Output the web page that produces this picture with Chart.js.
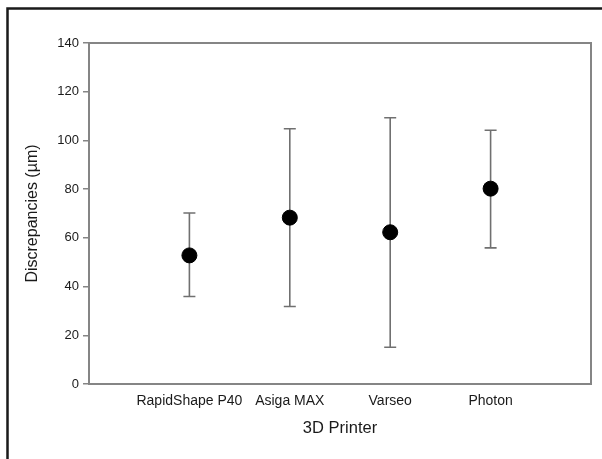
<!DOCTYPE html>
<html>
<head>
<meta charset="utf-8">
<script src="https://cdn.jsdelivr.net/npm/chart.js@4/dist/chart.umd.min.js"></script>
<style>
  html, body { margin: 0; padding: 0; background: #fff; }
  #wrap { width: 602px; height: 459px; }
</style>
</head>
<body>
<div id="wrap"><canvas id="discChart"></canvas></div>
<script>
// data
var printers = ["RapidShape P40", "Asiga MAX", "Varseo", "Photon"];
var means = [52.8, 68.3, 62.3, 80.2];
var lows = [35.9, 31.8, 15.1, 55.9];
var highs = [70.2, 104.8, 109.3, 104.2];
var yTicks = [0, 20, 40, 60, 80, 100, 120, 140];

var points = printers.map(function (p, i) {
    return { x: i + 1, y: means[i] };
});

// frame round the plot + outer black border
var framePlugin = {
    id: "frame",
    beforeDraw: function (chart) {
        var c = chart.ctx;
        c.save();
        c.fillStyle = "#fff";
        c.fillRect(0, 0, chart.width, chart.height);
        c.strokeStyle = "#1a1a1a";
        c.lineWidth = 2.5;
        c.beginPath();
        c.moveTo(7.5, chart.height);
        c.lineTo(7.5, 8.5);
        c.lineTo(chart.width, 8.5);
        c.stroke();
        c.restore();
    },
    afterDatasetsDraw: function (chart) {
        var a = chart.chartArea;
        var c = chart.ctx;
        c.save();
        c.strokeStyle = "#858585";
        c.lineWidth = 2;
        c.strokeRect(a.left, a.top, a.right - a.left, a.bottom - a.top);
        c.restore();
    }
};

// error bars drawn under the points
var errorBars = {
    id: "errorBars",
    beforeDatasetsDraw: function (chart) {
        var xs = chart.scales.x, ys = chart.scales.y;
        var c = chart.ctx;
        c.save();
        c.strokeStyle = "#707070";
        c.lineWidth = 1.6;
        printers.forEach(function (p, i) {
            var x = xs.getPixelForValue(i + 1);
            var yl = ys.getPixelForValue(lows[i]);
            var yh = ys.getPixelForValue(highs[i]);
            c.beginPath();
            c.moveTo(x, yl); c.lineTo(x, yh);
            c.moveTo(x - 6, yl); c.lineTo(x + 6, yl);
            c.moveTo(x - 6, yh); c.lineTo(x + 6, yh);
            c.stroke();
        });
        c.restore();
    }
};

document.addEventListener("DOMContentLoaded", function () {
    var ctx = document.getElementById("discChart").getContext("2d");
    new Chart(ctx, {
        type: "scatter",
        data: {
            datasets: [{
                label: "Discrepancies",
                data: points,
                backgroundColor: "#000",
                borderColor: "#000",
                pointRadius: 7.5,
                pointHoverRadius: 7.5
            }]
        },
        options: {
            responsive: true,
            maintainAspectRatio: false,
            animation: false,
            layout: { padding: { left: 0, top: 43, right: 11, bottom: 0 } },
            plugins: { legend: { display: false }, tooltip: { enabled: false } },
            scales: {
                x: {
                    type: "linear",
                    min: 0,
                    max: printers.length + 1,
                    afterBuildTicks: function (s) {
                        s.ticks = printers.map(function (p, i) { return { value: i + 1 }; });
                    },
                    afterFit: function (s) { s.height = 75; },
                    grid: { display: false },
                    border: { display: false },
                    ticks: {
                        padding: 1,
                        color: "#1a1a1a",
                        font: { family: "Liberation Sans", size: 14 },
                        callback: function (v) { return printers[v - 1] || ""; }
                    },
                    title: {
                        display: true,
                        text: "3D Printer",
                        color: "#1a1a1a",
                        font: { family: "Liberation Sans", size: 16.5 },
                        padding: { top: 0, bottom: 21 }
                    }
                },
                y: {
                    min: 0,
                    max: 140,
                    afterBuildTicks: function (s) {
                        s.ticks = yTicks.map(function (v) { return { value: v }; });
                    },
                    afterFit: function (s) { s.width = 89; },
                    grid: { drawOnChartArea: false, drawTicks: true, tickLength: 6, color: "#858585", lineWidth: 1.5 },
                    border: { display: false },
                    ticks: {
                        padding: 4,
                        color: "#1a1a1a",
                        font: { family: "Liberation Sans", size: 13 }
                    },
                    title: {
                        display: true,
                        text: "Discrepancies (µm)",
                        color: "#1a1a1a",
                        font: { family: "Liberation Sans", size: 16 },
                        padding: { top: 23, bottom: 0 }
                    }
                }
            }
        },
        plugins: [framePlugin, errorBars]
    });
});
</script>
</body>
</html>
